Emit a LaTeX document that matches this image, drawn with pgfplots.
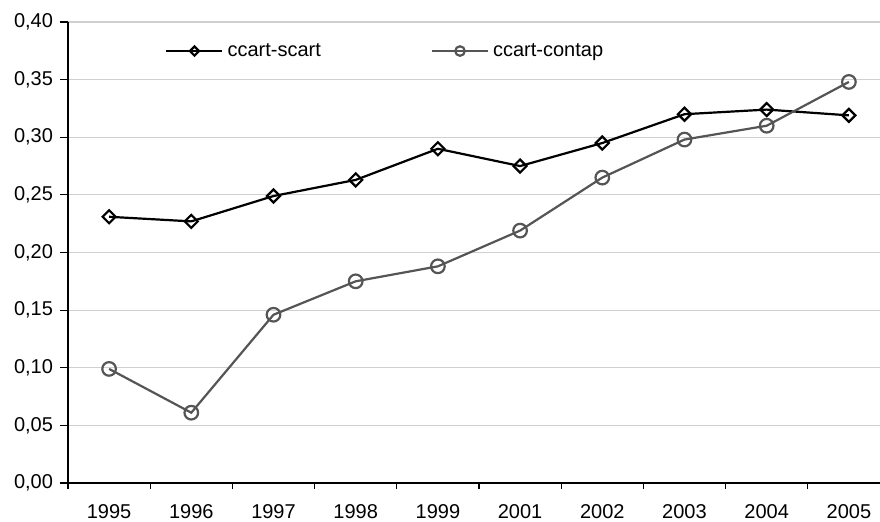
\documentclass[border=0pt]{standalone}
\usepackage{pgfplots}
\pgfplotsset{compat=1.18}
\usepackage{fontspec}
\setmainfont{Liberation Sans}
\definecolor{gridgray}{HTML}{D0D0D0}
\definecolor{seriesgray}{HTML}{555555}

\begin{document}
\begin{tikzpicture}
\fontsize{10}{12}\selectfont
\useasboundingbox (0,0) rectangle (440pt,260.5pt);
\begin{axis}[
  at={(34pt,19pt)}, anchor=south west,
  scale only axis,
  width=411pt, height=230.5pt,
  xmin=-0.5, xmax=9.5,
  ymin=0, ymax=0.40,
  axis x line*=bottom,
  axis y line*=left,
  axis line style={black, line width=0.6pt},
  xtick={0,...,9},
  xticklabels={1995,1996,1997,1998,1999,2001,2002,2003,2004,2005},
  minor xtick={-0.5,0.5,...,9.5},
  major x tick style={draw=none},
  minor x tick style={black, line width=0.6pt},
  minor tick length=3pt,
  ytick={0,0.05,...,0.401},
  major tick length=4pt,
  y tick style={black, line width=0.6pt},
  tick align=outside,
  ymajorgrids,
  major grid style={gridgray, line width=0.6pt},
  y tick label style={/pgf/number format/fixed, /pgf/number format/fixed zerofill,
    /pgf/number format/precision=2, /pgf/number format/use comma},
  /pgf/number format/assume math mode=true,
  tick label style={font=\fontsize{10}{12}\selectfont},
  xticklabel style={yshift=-3pt},
  legend columns=2,
  legend style={draw=none, fill=none, at={(0.118,0.937)}, anchor=west,
    inner sep=0pt, font=\fontsize{10}{12}\selectfont,
    /tikz/every even column/.append style={column sep=53pt}},
  legend image code/.code={\draw[mark repeat=2, mark phase=2, /tikz/every mark/.append style={scale=0.7}]
    plot coordinates {(0pt,0pt) (14pt,0pt) (28pt,0pt)};},
  clip=false,
]
\addplot[black, line width=1.1pt, mark=square, mark size=2.3pt,
  mark options={fill=white, line width=1.1pt, solid, rotate=45}]
  coordinates {(0,0.231) (1,0.227) (2,0.249) (3,0.263) (4,0.290)
               (5,0.275) (6,0.295) (7,0.320) (8,0.324) (9,0.319)};
\addlegendentry{ccart-scart}
\addplot[seriesgray, line width=1.1pt, mark=o, mark size=3.4pt,
  mark options={fill=white, line width=1.1pt, solid}]
  coordinates {(0,0.099) (1,0.061) (2,0.146) (3,0.175) (4,0.188)
               (5,0.219) (6,0.265) (7,0.298) (8,0.310) (9,0.348)};
\addlegendentry{ccart-contap}
\end{axis}
\end{tikzpicture}
\end{document}
